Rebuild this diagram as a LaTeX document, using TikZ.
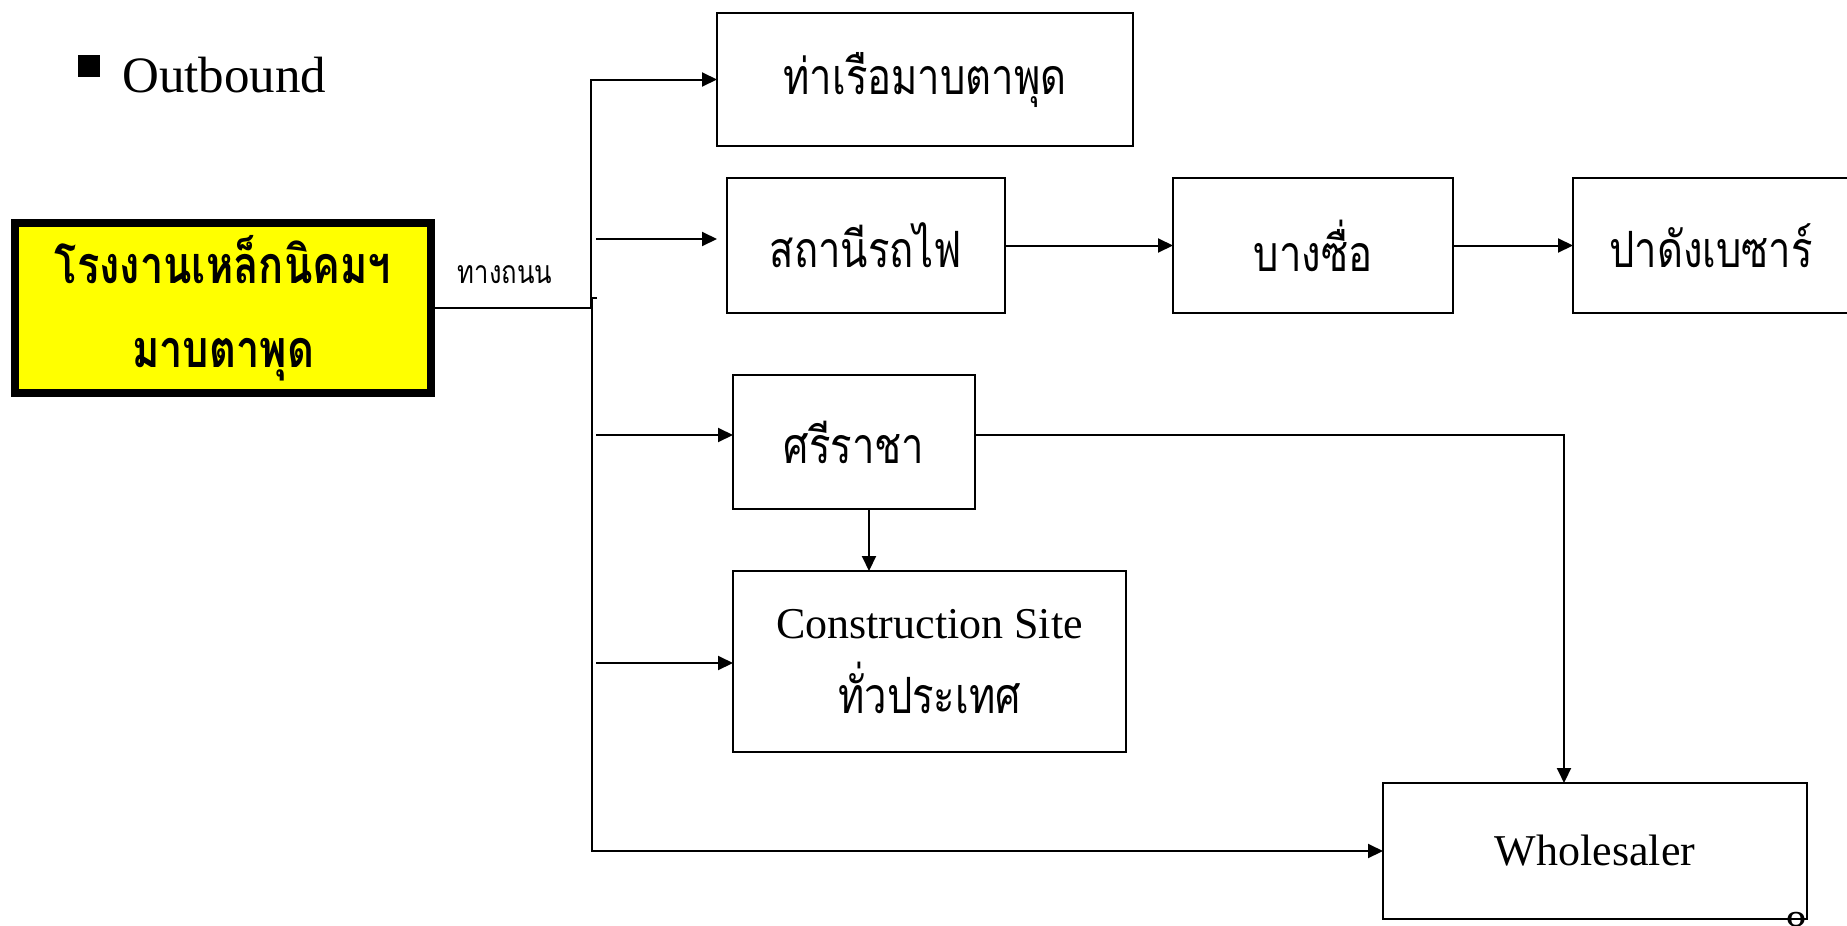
\documentclass[tikz,border=0pt]{standalone}
\usepackage{fontspec}
\setmainfont{Liberation Serif}
\newfontfamily\thaifont[Script=Thai,FakeStretch=0.8]{Loma}
\usetikzlibrary{arrows.meta}
\definecolor{plantyellow}{RGB}{255,255,0}
\begin{document}
\begin{tikzpicture}[x=1pt,y=-1pt,
  box/.style={draw, line width=2pt, inner sep=0pt, outer sep=0pt, anchor=north west, align=center},
  conn/.style={line width=2pt, -{Triangle[length=15pt,width=14pt]}},
  thl/.style={font=\thaifont\fontsize{50}{60}\selectfont},
  enl/.style={font=\fontsize{44}{52}\selectfont}
]
\useasboundingbox (0,0) rectangle (1847,926);
% bullet and title
\node[fill=black, minimum size=22pt, inner sep=0pt, anchor=north west] (bul) at (78,55) {};
\node[anchor=base west, inner sep=0pt, font=\fontsize{51}{60}\selectfont] (title) at (122,92) {Outbound};
% boxes
\node[box, fill=plantyellow, line width=8pt, minimum width=416pt, minimum height=170pt,
      font=\thaifont\bfseries\fontsize{52}{84}\selectfont] (plant) at (15,223) {โรงงานเหล็กนิคมฯ\\มาบตาพุด};
\node[box, thl, minimum width=416pt, minimum height=133pt] (port) at (717,13) {ท่าเรือมาบตาพุด};
\node[box, thl, minimum width=278pt, minimum height=135pt] (rail) at (727,178) {สถานีรถไฟ};
\node[box, thl, minimum width=280pt, minimum height=135pt] (bangsue) at (1173,178) {บางซื่อ};
\node[box, thl, minimum width=276pt, minimum height=135pt] (padang) at (1573,178) {ปาดังเบซาร์};
\node[box, thl, minimum width=242pt, minimum height=134pt] (sriracha) at (733,375) {ศรีราชา};
\node[box, minimum width=393pt, minimum height=181pt] (site) at (733,571)
  {{\fontsize{44}{52}\selectfont Construction Site}\\[22pt]{\thaifont\fontsize{50}{60}\selectfont ทั่วประเทศ}};
\node[box, enl, minimum width=424pt, minimum height=136pt] (wholesale) at (1383,783) {Wholesaler};
% road label
\node[font=\thaifont\fontsize{32}{36}\selectfont, inner sep=0pt] (road) at (505,275) {ทางถนน};
% page number (cut off at the lower edge, as in the slide)
\node[anchor=base, inner sep=0pt, font=\fontsize{44}{52}\selectfont] (pnum) at (1796,941) {8};
% junction coordinates
\coordinate (j1) at (591,308);
\coordinate (j2) at (592,298);
\coordinate (tick) at (597,298);
\coordinate (a1) at (596,239);
\coordinate (a2) at (596,435);
\coordinate (a3) at (596,663);
\coordinate (cx) at (869,0);
\coordinate (k) at (1564,435);
% connectors
\draw[conn] (plant.east) -- (j1) |- (port.west);
\draw[conn] (tick) -- (j2) |- (wholesale.west);
\draw[conn, shorten >=10pt] (a1) -- (a1 -| rail.west);
\draw[conn] (a2) -- (a2 -| sriracha.west);
\draw[conn] (a3) -- (a3 -| site.west);
\draw[conn] (rail.east) -- (bangsue.west);
\draw[conn] (bangsue.east) -- (padang.west);
\draw[conn] (sriracha.south -| cx) -- (site.north -| cx);
\draw[conn] (k -| sriracha.east) -- (k) -- (k |- wholesale.north);
\end{tikzpicture}
\end{document}
